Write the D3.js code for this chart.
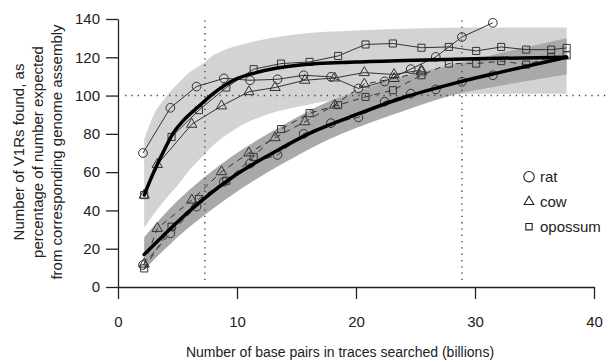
<!DOCTYPE html>
<html>
<head>
<meta charset="utf-8">
<script src="https://cdn.jsdelivr.net/npm/d3@7"></script>
<style>
  body { margin: 0; background: #fff; }
  svg { font-family: 'Liberation Sans', Arial, sans-serif; }
</style>
</head>
<body>
<div id="hook-chart"></div>
<script>
'use strict';

// rat points
var ratX = [2.1, 4.4, 6.6, 8.9, 11.1, 13.4, 15.6, 17.9, 20.2, 22.4, 24.6, 26.7, 28.9, 31.5];
var ratUpper = [70, 93.6, 104.7, 109, 108, 108.5, 110.6, 109.8, 103.7, 107.4, 113.8, 120.2, 130.6, 138];
var ratLower = [11.5, 28, 42, 55, 64.5, 69, 80, 85.6, 88.6, 96.8, 101, 103.2, 107.2, 110.6];

// cow points
var cowX = [2.2, 3.3, 6.2, 8.7, 11.0, 13.2, 15.7, 18.2, 20.7, 23.2, 25.5];
var cowUpper = [48, 64, 85, 94.6, 102, 104.2, 108, 109.2, 112, 111, 113.3];
var cowLower = [12, 30.6, 45.4, 60.2, 70, 78, 86.3, 95, 106, 108.9, 112.4];

// opossum points
var opossumX = [2.2, 4.5, 6.8, 9.1, 11.4, 13.7, 16.1, 18.5, 20.8, 23.1, 25.5, 27.8, 30.1, 32.2, 34.3, 36.4, 37.7];
var opossumUpper = [48, 78.4, 92.4, 104.2, 113.8, 116.7, 117.6, 120.7, 126.7, 127.2, 125, 125.4, 123.3, 125.4, 124, 124, 124.9];
var opossumLower = [9.7, 31.5, 46, 55.5, 68, 82.5, 90.8, 95, 99.3, 102.8, 110.6, 116.7, 116.7, 118, 116.2, 120, 121];

// fitted curves
var fitUpperX = [2.2, 3, 4, 4.6, 5.5, 6.9, 8, 9.7, 11.6, 15.3, 20, 25, 30, 37.7];
var fitUpper = [48, 60, 73, 80, 87, 95, 101, 108, 112, 116, 117.5, 118.5, 119.3, 120];
var fitLowerX = [2.2, 5, 7, 10, 13, 16, 20, 24, 28, 32, 37.7];
var fitLower = [17, 34, 45, 59, 70, 80, 90, 99, 106, 112, 120];

// light band (upper group)
var lightX = [2.2, 3, 4, 5, 6, 7.2, 8, 9, 10, 12, 15, 20, 25, 30, 37.7];
var lightHi = [77, 90, 99, 106, 112, 117, 121, 124, 126, 129, 132, 134, 135, 135.5, 135.5];
var lightLo = [31, 38, 46, 53, 61, 69, 74, 79, 83, 89, 94, 99, 100.5, 101, 101];

// dark band (lower group)
var darkX = [2.2, 5, 8, 11, 14, 17, 20, 24, 28, 32, 37.7];
var darkHi = [26, 45, 61, 74, 85, 95, 102, 110, 116, 122, 130];
var darkLo = [9, 26, 41, 54, 65, 75, 83, 92, 100, 105, 111];

var xTicks = [0, 10, 20, 30, 40];
var yTicks = [0, 20, 40, 60, 80, 100, 120, 140];
var refX = [7.3, 28.9];
var refY = [100];
var legendLabels = ['rat', 'cow', 'opossum'];

var width = 616, height = 362;

var svg = d3.select('#hook-chart')
  .append('svg')
  .attr('width', width)
  .attr('height', height);

var x = d3.scaleLinear().domain([0, 40]).range([118, 594]);
var y = d3.scaleLinear().domain([0, 140]).range([287, 19]);

function zip(xs, ys) {
  return xs.map(function(v, i) { return [v, ys[i]]; });
}

function band(xs, lo, hi, fill) {
  var area = d3.area()
    .x(function(d) { return x(d[0]); })
    .y0(function(d) { return y(d[1]); })
    .y1(function(d) { return y(d[2]); })
    .curve(d3.curveMonotoneX);
  svg.append('path')
    .datum(xs.map(function(v, i) { return [v, lo[i], hi[i]]; }))
    .attr('d', area)
    .style('fill', fill)
    .style('stroke', 'none');
}

band(lightX, lightLo, lightHi, '#d3d3d3');
band(darkX, darkLo, darkHi, '#a9a9a9');

// dotted reference lines
refX.forEach(function(v) {
  svg.append('line')
    .attr('x1', x(v)).attr('x2', x(v))
    .attr('y1', y(3.6)).attr('y2', y(140.5))
    .style('stroke', '#444')
    .style('stroke-width', 1.4)
    .style('stroke-dasharray', '1.3,5');
});
refY.forEach(function(v) {
  svg.append('line')
    .attr('x1', x(0.6)).attr('x2', x(41))
    .attr('y1', y(v)).attr('y2', y(v))
    .style('stroke', '#444')
    .style('stroke-width', 1.4)
    .style('stroke-dasharray', '1.3,5');
});

var line = d3.line()
  .x(function(d) { return x(d[0]); })
  .y(function(d) { return y(d[1]); });

var sym = {
  rat: d3.symbol().type(d3.symbolCircle).size(60),
  cow: d3.symbol().type(d3.symbolTriangle).size(46),
  opossum: d3.symbol().type(d3.symbolSquare).size(50)
};

function series(name, xs, ys, dashed) {
  var pts = zip(xs, ys);
  svg.append('path')
    .datum(pts)
    .attr('d', line)
    .style('fill', 'none')
    .style('stroke', '#333')
    .style('stroke-width', 1)
    .style('stroke-dasharray', dashed ? '6,5' : null);
  svg.selectAll(null)
    .data(pts)
    .enter()
    .append('path')
    .attr('d', sym[name])
    .attr('transform', function(d) {
      return 'translate(' + x(d[0]) + ',' + y(d[1]) + ')';
    })
    .style('fill', 'none')
    .style('stroke', '#333')
    .style('stroke-width', 1);
}

series('rat', ratX, ratLower, true);
series('cow', cowX, cowLower, true);
series('opossum', opossumX, opossumLower, true);
series('rat', ratX, ratUpper, false);
series('cow', cowX, cowUpper, false);
series('opossum', opossumX, opossumUpper, false);

var smooth = d3.line()
  .x(function(d) { return x(d[0]); })
  .y(function(d) { return y(d[1]); })
  .curve(d3.curveMonotoneX);

[zip(fitUpperX, fitUpper), zip(fitLowerX, fitLower)].forEach(function(pts) {
  svg.append('path')
    .datum(pts)
    .attr('d', smooth)
    .style('fill', 'none')
    .style('stroke', '#000')
    .style('stroke-width', 3.5)
    .style('stroke-linecap', 'round');
});

// axes
var yAxis = d3.axisLeft(y).tickValues(yTicks).tickSize(12).tickSizeOuter(0).tickPadding(6);
var xAxis = d3.axisBottom(x).tickValues(xTicks).tickSize(12).tickSizeOuter(0).tickPadding(17);

var gy = svg.append('g').attr('transform', 'translate(118,0)').call(yAxis);
var gx = svg.append('g').attr('transform', 'translate(0,287)').call(xAxis);

[gx, gy].forEach(function(g) {
  g.selectAll('path, line').style('stroke', '#222').style('stroke-width', 1.3);
  g.selectAll('text')
    .style('font-size', '15px')
    .style('fill', '#222')
    .style('font-family', "'Liberation Sans', Arial, sans-serif");
});

svg.append('text')
  .attr('x', 340)
  .attr('y', 357)
  .attr('text-anchor', 'middle')
  .style('font-size', '14px')
  .style('fill', '#222')
  .text('Number of base pairs in traces searched (billions)');

var yTitle = ['Number of V1Rs found, as', 'percentage of number expected', 'from corresponding genome assembly'];
yTitle.forEach(function(t, i) {
  svg.append('text')
    .attr('transform', 'translate(' + (24 + i * 19) + ',152) rotate(-90)')
    .attr('text-anchor', 'middle')
    .style('font-size', '15px')
    .style('fill', '#222')
    .text(t);
});

// legend
var legendSym = [
  d3.symbol().type(d3.symbolCircle).size(85),
  d3.symbol().type(d3.symbolTriangle).size(40),
  d3.symbol().type(d3.symbolSquare).size(40)
];
legendLabels.forEach(function(lab, i) {
  var cy = 176.7 + i * 25;
  svg.append('path')
    .attr('d', legendSym[i])
    .attr('transform', 'translate(529,' + cy + ')')
    .style('fill', 'none')
    .style('stroke', '#222')
    .style('stroke-width', 1.1);
  svg.append('text')
    .attr('x', 540)
    .attr('y', cy + 5.3)
    .style('font-size', '15px')
    .style('fill', '#222')
    .text(lab);
});
</script>
</body>
</html>
